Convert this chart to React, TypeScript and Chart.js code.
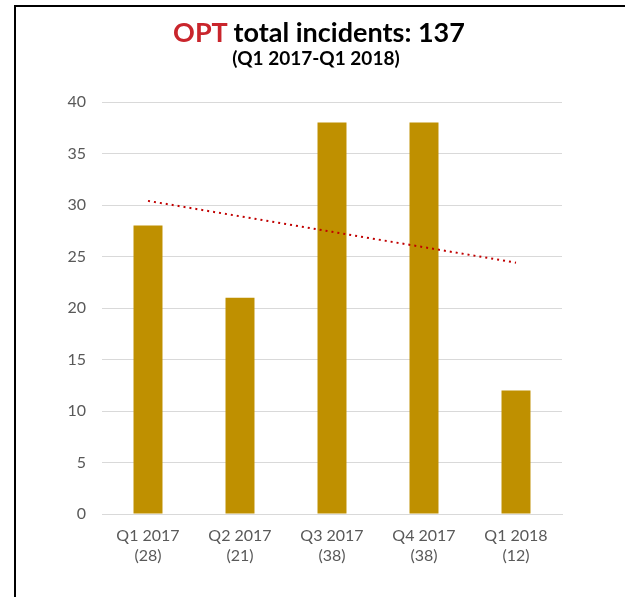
import React, { useEffect, useRef } from "react";
import { Chart, registerables } from "chart.js";

Chart.register(...registerables);

const quarters = ["Q1 2017", "Q2 2017", "Q3 2017", "Q4 2017", "Q1 2018"];
const incidents = [28, 21, 38, 38, 12];
const trend = [30.4, 28.9, 27.4, 25.9, 24.4];
const yTicks = [0, 5, 10, 15, 20, 25, 30, 35, 40];

const FONT = "Lato, 'Open Sans', sans-serif";

export default function App() {
  const ref = useRef<HTMLCanvasElement | null>(null);

  useEffect(() => {
    if (!ref.current) return;
    const labels = quarters.map((q, i) => [q, `(${incidents[i]})`]);
    const chart = new Chart(ref.current, {
      type: "bar",
      data: {
        labels,
        datasets: [
          {
            type: "line",
            label: "Trend",
            data: trend,
            borderColor: "#C00000",
            borderWidth: 2,
            borderDash: [2, 4],
            pointRadius: 0,
            fill: false,
            order: 0,
          } as any,
          {
            type: "bar",
            label: "Incidents",
            data: incidents,
            backgroundColor: "#BF9000",
            categoryPercentage: 1,
            barPercentage: 0.315,
            order: 1,
          },
        ],
      },
      options: {
        responsive: false,
        animation: false,
        layout: { padding: { top: 102, right: 63, left: 0, bottom: 0 } },
        plugins: {
          legend: { display: false },
          tooltip: { enabled: false },
          title: { display: false },
        },
        scales: {
          x: {
            grid: { display: false, drawTicks: false },
            border: { display: true, color: "#D9D9D9" },
            ticks: {
              color: "#595959",
              font: { family: FONT, size: 16, lineHeight: 1.25 },
              padding: 12,
              maxRotation: 0,
            },
            afterFit: (s: any) => {
              s.height = 83;
            },
          },
          y: {
            min: 0,
            max: 40,
            afterBuildTicks: (s: any) => {
              s.ticks = yTicks.map((v) => ({ value: v }));
            },
            grid: { color: "#D9D9D9", lineWidth: 1, drawTicks: false },
            border: { display: false },
            ticks: {
              color: "#595959",
              font: { family: FONT, size: 16 },
              padding: 16,
            },
            afterFit: (s: any) => {
              s.width = 102;
            },
          },
        },
      },
    });
    return () => chart.destroy();
  }, []);

  return (
    <div>
      <div
        style={{
          position: "fixed",
          left: 14,
          top: 5,
          width: 611,
          height: 592,
          borderTop: "2px solid #000",
          borderLeft: "2px solid #000",
          boxSizing: "border-box",
          background: "#fff",
        }}
      />
      <canvas
        ref={ref}
        width={625}
        height={597}
        style={{ position: "fixed", left: 0, top: 0, width: 625, height: 597 }}
      />
      <div
        style={{
          position: "fixed",
          left: 0,
          width: 638,
          top: 16,
          textAlign: "center",
          fontFamily: FONT,
          fontWeight: 700,
          fontSize: 27,
          lineHeight: "32px",
          color: "#000",
        }}
      >
        <span style={{ color: "#C9252C" }}>OPT</span> total incidents: 137
      </div>
      <div
        style={{
          position: "fixed",
          left: 0,
          width: 632,
          top: 47,
          textAlign: "center",
          fontFamily: FONT,
          fontWeight: 700,
          fontSize: 19,
          lineHeight: "22px",
          color: "#000",
        }}
      >
        (Q1 2017-Q1 2018)
      </div>
    </div>
  );
}
